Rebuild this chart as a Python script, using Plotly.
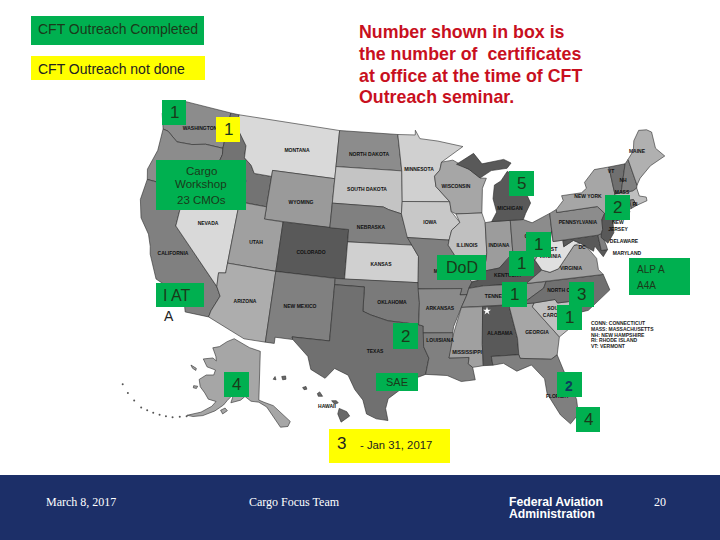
import math
import plotly.graph_objects as go

# state outlines as (lon, lat)
wa = [(-124.7,48.4),(-123.2,48.2),(-122.8,49),(-117,49),(-117,46),(-119,46),(-120.5,45.7),(-122.2,45.6),(-122.8,45.9),(-123.5,46.25),(-124.1,46.3),(-124.7,47.5)]
or_ = [(-124.1,46.3),(-123.5,46.25),(-122.8,45.9),(-122.2,45.6),(-120.5,45.7),(-119,46),(-117,46),(-116.9,45.5),(-117.2,44.4),(-117,43.8),(-117,42),(-124.2,42),(-124.5,42.8),(-124,44.5)]
ca = [(-124.2,42),(-120,42),(-120,39),(-114.6,35),(-114.1,34.3),(-114.7,33),(-114.8,32.5),(-117.1,32.5),(-117.3,33),(-118.4,33.8),(-119.2,34.1),(-120.6,34.5),(-121.8,36.3),(-122,36.9),(-122.5,37.8),(-123.7,38.9),(-124.3,40.3)]
nv = [(-120,42),(-114,42),(-114,36.2),(-114.7,36.1),(-114.6,35),(-120,39)]
id_ = [(-117,49),(-116,49),(-116,48),(-114.5,46.6),(-114.4,45.6),(-113.5,45.1),(-113,44.5),(-111.05,44.5),(-111.05,42),(-117,42),(-117,43.8),(-117.2,44.4),(-116.9,45.5),(-117,46)]
mt = [(-116,49),(-104.05,49),(-104.05,45),(-111.05,45),(-111.05,44.5),(-113,44.5),(-113.5,45.1),(-114.4,45.6),(-114.5,46.6),(-116,48)]
wy = [(-111.05,45),(-104.05,45),(-104.05,41),(-111.05,41)]
ut = [(-114,42),(-111.05,42),(-111.05,41),(-109.05,41),(-109.05,37),(-114,37)]
co = [(-109.05,41),(-102.05,41),(-102.05,37),(-109.05,37)]
az = [(-114,37),(-109.05,37),(-109.05,31.3),(-111.1,31.3),(-114.8,32.5),(-114.7,33),(-114.1,34.3),(-114.6,35),(-114.7,36.1),(-114,36.2)]
nm = [(-109.05,37),(-103,37),(-103,32),(-106.6,32),(-106.5,31.8),(-108.2,31.8),(-108.2,31.3),(-109.05,31.3)]
nd = [(-104.05,49),(-97.2,49),(-96.6,46),(-104.05,46)]
sd = [(-104.05,46),(-96.6,46),(-96.45,43.5),(-96.5,42.5),(-97.9,42.8),(-98.5,43),(-104.05,43)]
ne = [(-104.05,43),(-98.5,43),(-97.9,42.8),(-96.5,42.5),(-96.1,41.5),(-95.3,40),(-102.05,40),(-102.05,41),(-104.05,41)]
ks = [(-102.05,40),(-95.3,40),(-94.6,39.1),(-94.6,37),(-102.05,37)]
ok = [(-103,37),(-94.6,37),(-94.45,35.4),(-94.5,33.65),(-96,33.8),(-97.5,33.9),(-99.2,34.3),(-100,34.56),(-100,36.5),(-103,36.5)]
tx = [(-103,36.5),(-100,36.5),(-100,34.56),(-99.2,34.3),(-97.5,33.9),(-96,33.8),(-94.5,33.65),(-94.05,33.55),(-94.05,33),(-94,31.9),(-93.5,31),(-93.8,29.7),(-94.7,29.4),(-96,28.5),(-97.2,27.7),(-97.4,26.9),(-97.15,25.95),(-98.2,26.05),(-99.1,26.4),(-99.5,27.5),(-100.3,28.3),(-101,29.4),(-102.3,29.85),(-103.1,29),(-104.5,29.6),(-104.9,30.6),(-106.5,31.8),(-106.6,32),(-103,32)]
mn = [(-97.2,49),(-95.15,49),(-95.15,49.4),(-94.6,48.7),(-92.5,48.5),(-89.6,48),(-92.1,46.75),(-92.3,46.1),(-92.9,45.6),(-92.75,44.75),(-91.25,43.5),(-96.45,43.5),(-96.6,46)]
ia = [(-96.45,43.5),(-91.25,43.5),(-91.1,42.7),(-90.2,41.8),(-91.1,41.2),(-91.4,40.4),(-95.8,40.6),(-96.1,41.5),(-96.5,42.5)]
mo = [(-95.8,40.6),(-91.4,40.4),(-91.5,40),(-90.7,39),(-90.2,38.7),(-89.5,37.3),(-89.15,37),(-89.5,36.5),(-89.7,36),(-90.4,36),(-90.2,36.5),(-94.6,36.5),(-94.6,39.1),(-95.3,40)]
ar = [(-94.6,36.5),(-90.2,36.5),(-90.4,36),(-89.7,36),(-90.3,35),(-91.1,33.5),(-91.2,33),(-94.05,33),(-94.05,33.55),(-94.5,33.65),(-94.45,35.4)]
la = [(-94.05,33),(-91.2,33),(-91.1,32.3),(-91.6,31),(-89.7,31),(-89.8,30.5),(-89.4,30.2),(-89.2,29.2),(-90.5,29.1),(-91.8,29.6),(-93.8,29.7),(-93.5,31),(-94,31.9)]
wi = [(-92.1,46.75),(-90.8,46.9),(-89,46.1),(-87.8,45.35),(-87.1,45.3),(-87.6,44.5),(-87.8,42.5),(-90.6,42.5),(-91.1,42.7),(-91.25,43.5),(-92.75,44.75),(-92.9,45.6),(-92.3,46.1)]
il = [(-90.6,42.5),(-87.8,42.5),(-87.5,41.7),(-87.5,39.3),(-87.6,38.7),(-88.05,37.8),(-88.5,37.1),(-89.15,37),(-89.5,37.3),(-90.2,38.7),(-90.7,39),(-91.5,40),(-91.4,40.4),(-91.1,41.2),(-90.2,41.8)]
in_ = [(-87.5,41.7),(-86.8,41.76),(-84.8,41.76),(-84.8,39.1),(-85.4,38.7),(-86.3,38),(-88.05,37.8),(-87.6,38.7),(-87.5,39.3)]
oh = [(-84.8,41.76),(-83.4,41.73),(-82.5,41.4),(-81.2,41.8),(-80.52,42),(-80.52,40.6),(-80.85,39.7),(-81.75,39.2),(-82.6,38.4),(-83.7,38.65),(-84.8,39.1)]
mi_low = [(-86.8,41.76),(-84.8,41.76),(-83.4,41.73),(-83.1,42.2),(-82.45,43),(-82.9,44),(-83.4,44.1),(-83.3,45),(-84.7,45.75),(-85.5,45),(-86.25,44.7),(-86.5,43.6),(-86.2,42.5)]
mi_up = [(-90.4,46.55),(-88.4,47.4),(-87.5,46.5),(-85,46.75),(-84.2,46.4),(-84.7,46),(-86.5,45.9),(-87.8,45.35),(-89,46.1)]
ky = [(-89.5,36.5),(-89.15,37),(-88.5,37.1),(-88.05,37.8),(-86.3,38),(-85.4,38.7),(-84.8,39.1),(-83.7,38.65),(-82.6,38.4),(-82,37.55),(-83.7,36.6),(-88,36.65)]
tn = [(-89.7,36),(-89.5,36.5),(-88,36.65),(-83.7,36.6),(-81.7,36.6),(-82,36.1),(-84.3,35),(-90.3,35)]
ms = [(-90.3,35),(-88.2,35),(-88.4,32),(-88.4,30.3),(-89.4,30.2),(-89.8,30.5),(-89.7,31),(-91.6,31),(-91.1,33)]
al = [(-88.2,35),(-85.6,35),(-85,32.3),(-85,31),(-87.6,31),(-87.5,30.3),(-88.4,30.3),(-88.4,32)]
ga = [(-85.6,35),(-83.1,35),(-83.3,34.7),(-81,32.1),(-81.4,30.7),(-82,30.4),(-84.9,30.7),(-85,31),(-85,32.3)]
fl = [(-87.6,31),(-85,31),(-84.9,30.7),(-82,30.4),(-81.4,30.7),(-81,29.5),(-80.1,27),(-80.1,25.8),(-80.9,25.1),(-81.7,25.9),(-82.7,27.7),(-82.8,28.9),(-83.9,30.1),(-85.3,29.7),(-86.5,30.4),(-87.5,30.3)]
sc = [(-83.1,35),(-81,35.1),(-80.8,34.8),(-79.7,34.8),(-78.55,33.85),(-79.3,33),(-81,32.1),(-83.3,34.7)]
nc = [(-84.3,35),(-82,36.1),(-81.7,36.6),(-75.9,36.55),(-75.5,35.25),(-76.5,34.7),(-77.9,33.9),(-78.55,33.85),(-79.7,34.8),(-80.8,34.8),(-81,35.1),(-83.1,35)]
va = [(-83.7,36.6),(-82,37.55),(-81.2,37.3),(-80.3,37.5),(-79.3,38.4),(-78.4,39.2),(-77.8,39.15),(-77.1,38.9),(-76.3,37.9),(-76.3,37),(-75.9,36.55),(-81.7,36.6)]
wv = [(-82.6,38.4),(-81.75,39.2),(-80.85,39.7),(-80.52,40.6),(-80.52,39.72),(-79.48,39.72),(-79.48,39.2),(-78.4,39.6),(-77.75,39.3),(-78.4,39.2),(-79.3,38.4),(-80.3,37.5),(-81.2,37.3),(-82,37.55)]
md = [(-79.48,39.72),(-75.79,39.72),(-75.7,38.46),(-75.05,38.45),(-75.6,37.95),(-76.3,38.9),(-76.5,38.5),(-77.1,38.9),(-77.75,39.3),(-78.4,39.6),(-79.48,39.2)]
de = [(-75.79,39.72),(-75.4,39.8),(-75.1,38.8),(-75.05,38.45),(-75.7,38.46)]
pa = [(-80.52,42),(-79.76,42.25),(-79.76,42),(-75.35,42),(-74.7,41.36),(-75.1,40.9),(-75.2,40.1),(-75.4,39.8),(-75.79,39.72),(-80.52,39.72)]
nj = [(-74.7,41.36),(-73.9,41),(-74,40.5),(-74.1,39.7),(-74.9,38.95),(-75.5,39.5),(-75.4,39.8),(-75.2,40.1),(-75.1,40.9)]
ny = [(-79.76,42.25),(-78.9,42.9),(-79,43.3),(-76.8,43.3),(-76.2,43.6),(-76.3,44.1),(-75,45),(-73.35,45),(-73.3,43.6),(-73.25,42.75),(-73.5,42.05),(-73.5,41.3),(-73.65,41),(-72,41.1),(-74,40.6),(-73.9,41),(-74.7,41.36),(-75.35,42),(-79.76,42)]
vt = [(-73.35,45),(-71.5,45),(-72.45,43),(-72.45,42.73),(-73.25,42.75),(-73.3,43.6)]
nh = [(-71.5,45),(-71.08,45.3),(-70.7,43.1),(-70.8,42.87),(-71.3,42.7),(-72.45,42.73),(-72.45,43)]
me = [(-71.08,45.3),(-70.3,45.9),(-70,46.7),(-69.2,47.45),(-68.3,47.35),(-67.8,47.07),(-67.8,45.7),(-67,44.9),(-68.8,44.4),(-70.2,43.6),(-70.7,43.1)]
ma = [(-73.5,42.05),(-73.25,42.75),(-72.45,42.73),(-71.3,42.7),(-70.8,42.87),(-70.7,42.2),(-70,42),(-70,41.7),(-71.2,41.5),(-71.4,42.02),(-71.8,42.02)]
ct = [(-73.5,42.05),(-71.8,42.02),(-71.8,41.35),(-73.65,41),(-73.5,41.3)]
ri = [(-71.8,42.02),(-71.4,42.02),(-71.2,41.5),(-71.8,41.35)]

lower48 = [wa, or_, ca, nv, id_, mt, wy, ut, co, az, nm, nd, sd, ne, ks, ok, tx, mn, ia, mo, ar, la, wi, il, in_, oh,
           mi_low, mi_up, ky, tn, ms, al, ga, fl, sc, nc, va, wv, md, de, pa, nj, ny, vt, nh, me, ma, ct, ri]
lower48_grey = [140, 140, 128, 217, 115, 217, 154, 160, 89, 173, 128, 140, 196, 128, 208, 122, 112, 208, 200, 127, 138, 128, 166, 192, 156, 140,
                89, 89, 89, 140, 160, 89, 166, 127, 192, 112, 160, 224, 89, 128, 140, 89, 166, 112, 128, 176, 191, 154, 128]

alaska = [(-141,69.65),(-141,60.3),(-139,59.9),(-135.5,59.2),(-130,55.9),(-131,55),(-133.5,55),(-136,57.5),(-138,59),(-141,59.9),(-144,60),(-146.5,60.8),(-148,60),(-151.5,59.2),(-151,61),(-153,59.5),(-154,58.5),(-156.5,57),(-160,55.5),(-163,54.7),(-165,54.5),(-161,56),(-158,57.7),(-157,58.8),(-160,58.8),(-162,59.7),(-164.5,60.5),(-166,61.7),(-164,63),(-161,63.5),(-161,64.5),(-165,64.5),(-168,65.6),(-164,66.5),(-162,66.2),(-163,67),(-166,68.3),(-163,69),(-160,70.4),(-156.6,71.35),(-152,70.8),(-147,70.2)]
kodiak = [(-154.6,57.4),(-153.2,58),(-152.2,57.6),(-153.6,56.8)]
nunivak = [(-167,60.2),(-165.5,60.4),(-165.6,59.9),(-166.8,59.8)]
st_lawrence = [(-171.7,63.5),(-169,63.4),(-168.8,63),(-170.5,63.1)]
aleutians_lon = [-165,-167,-169,-171,-173,-175,-177,-179,-182,-185,-188]
aleutians_lat = [54.3,53.7,53,52.6,52.3,52,51.8,51.6,51.9,52.3,52.9]

hi_big = [(-155.9,20.2),(-155.1,19.9),(-154.8,19.5),(-155.7,18.95),(-156.05,19.7)]
hi_maui = [(-156.7,20.9),(-156.2,20.9),(-156,20.7),(-156.4,20.6)]
hi_oahu = [(-158.2,21.55),(-157.95,21.7),(-157.65,21.3),(-158.1,21.3)]
hi_kauai = [(-159.75,22.1),(-159.4,22.2),(-159.3,21.95),(-159.6,21.9)]
hi_nihoa = [(-161.95,23.1),(-161.55,23.15),(-161.5,22.85),(-161.85,22.8)]
hi_necker = [(-162.85,22.85),(-162.65,23.1),(-162.55,22.8)]

state_labels = ["WASHINGTON","MONTANA","NORTH DAKOTA","SOUTH DAKOTA","WYOMING","NEBRASKA","NEVADA","UTAH","COLORADO","KANSAS","CALIFORNIA",
                "IDAHO","ARIZONA","NEW MEXICO","OKLAHOMA","TEXAS","MINNESOTA","WISCONSIN","MICHIGAN","IOWA","NEW YORK","PENNSYLVANIA",
                "ILLINOIS","INDIANA","OHIO","MISSOURI","KENTUCKY","WEST<br>VIRGINIA","VIRGINIA","TENNESSEE","NORTH CAROLINA","ARKANSAS",
                "VT","NH","MAINE","MASS","RI","LOUISIANA","MISSISSIPPI","ALABAMA","GEORGIA","SOUTH<br>CAROLINA","FLORIDA","HAWAII",
                "NEW<br>JERSEY","DELAWARE","MARYLAND","DC"]
label_x = [200,297,369,367,301,371,208,256,311,381,173,238,245,300,392,375,419,456,510,430,588,578,467,499,531,446,508,550,571,500,570,440,
           611,623,637,622,635,440,467,500,537,556,557,327,618,624,627,582]
label_y = [129,151,155,190,203,228,224,243,253,265,254,182,302,307,303,352,170,187,209,223,197,223,246,246,237,272,276,253,269,297,291,309,
           172,181,152,193,205,341,353,334,333,312,397,407,226,242,254,248]

note_lines = ["CONN: CONNECTICUT", "MASS: MASSACHUSETTS", "NH: NEW HAMPSHIRE", "RI: RHODE ISLAND", "VT: VERMONT"]
note_y = [324, 330, 336, 341, 347]

heading_lines = ["Number shown in box is", "the number of  certificates", "at office at the time of CFT", "Outreach seminar."]
heading_y = [32, 54, 76, 97]

GREEN = "#00B050"
YELLOW = "#FFFF00"
NAVY = "#1C2F68"
INK = "#1a3a1a"

# x0, y0, x1, y1, colour, label, font size
boxes = [
    (31, 16, 204, 45, GREEN, "", 12),
    (31, 56, 205, 80, YELLOW, "", 12),
    (162, 100, 186, 125, GREEN, "1", 17),
    (216, 117, 240, 142, YELLOW, "1", 17),
    (156, 160, 246, 210, GREEN, "", 11),
    (156, 283, 204, 307, GREEN, "", 15),
    (437, 255, 486, 280, GREEN, "DoD", 16),
    (509, 171, 534, 196, GREEN, "5", 17),
    (605, 195, 630, 220, GREEN, "2", 17),
    (526, 232, 551, 257, GREEN, "1", 17),
    (509, 251, 534, 276, GREEN, "1", 17),
    (502, 282, 527, 307, GREEN, "1", 17),
    (569, 282, 594, 307, GREEN, "3", 17),
    (557, 305, 582, 330, GREEN, "1", 17),
    (629, 258, 690, 295, GREEN, "", 9),
    (393, 323, 418, 349, GREEN, "2", 17),
    (376, 373, 418, 391, GREEN, "SAE", 11),
    (224, 372, 249, 397, GREEN, "4", 17),
    (557, 372, 582, 397, GREEN, "", 15),
    (576, 407, 600, 432, GREEN, "4", 17),
    (329, 429, 450, 463, YELLOW, "", 11),
]


def albers(lons, lats, lon0=-93.3, lat0=37.5, lat1=25.0, lat2=40.0):
    p1, p2 = math.radians(lat1), math.radians(lat2)
    n = (math.sin(p1) + math.sin(p2)) / 2
    c = math.cos(p1) ** 2 + 2 * n * math.sin(p1)
    rho0 = 6371 * math.sqrt(c - 2 * n * math.sin(math.radians(lat0))) / n
    xs, ys = [], []
    for lon, lat in zip(lons, lats):
        rho = 6371 * math.sqrt(c - 2 * n * math.sin(math.radians(lat))) / n
        theta = n * math.radians(lon - lon0)
        xs.append(rho * math.sin(theta))
        ys.append(rho0 - rho * math.cos(theta))
    return xs, ys


def main_xy(outline):
    xs, ys = albers([p[0] for p in outline], [p[1] for p in outline])
    return [431 + 0.112 * x for x in xs], [276.5 - 0.112 * y for y in ys]


def alaska_xy(lons, lats):
    xs, ys = albers(lons, lats, lon0=-139, lat0=63, lat1=55, lat2=65)
    return [264 + 0.047 * x for x in xs], [386 - 0.047 * y for y in ys]


def hawaii_xy(outline):
    return [343 + 9.5 * (p[0] + 155.5) for p in outline], [415 - 11 * (p[1] - 19.6) for p in outline]


def add_region(fig, x, y, grey):
    fig.add_trace(go.Scatter(x=x + x[:1], y=y + y[:1], mode="lines", fill="toself",
                             fillcolor=f"rgb({grey},{grey},{grey})",
                             line=dict(color="#2b2b2b", width=0.6),
                             hoverinfo="skip", showlegend=False))


def add_text(fig, text, x, y, size, color=INK, anchor="center", bold=False, family="Liberation Sans"):
    if bold:
        text = f"<b>{text}</b>"
    fig.add_annotation(x=x, y=y, xref="x", yref="y", text=text, showarrow=False, xanchor=anchor, yanchor="middle",
                       font=dict(family=family, size=size, color=color), borderpad=0, borderwidth=0)


fig = go.Figure()

for outline, grey in zip(lower48, lower48_grey):
    x, y = main_xy(outline)
    add_region(fig, x, y, grey)

for outline in [alaska, kodiak, nunivak, st_lawrence]:
    x, y = alaska_xy([p[0] for p in outline], [p[1] for p in outline])
    add_region(fig, x, y, 166)
x, y = alaska_xy(aleutians_lon, aleutians_lat)
fig.add_trace(go.Scatter(x=x, y=y, mode="markers", marker=dict(color="#555555", size=2),
                         hoverinfo="skip", showlegend=False))

for outline in [hi_big, hi_maui, hi_oahu, hi_kauai, hi_nihoa, hi_necker]:
    x, y = hawaii_xy(outline)
    add_region(fig, x, y, 105)

# state names sit under the boxes, so they are a trace and not annotations
fig.add_trace(go.Scatter(x=label_x, y=label_y, mode="text", text=[f"<b>{s}</b>" for s in state_labels],
                         textfont=dict(family="Liberation Sans", size=5, color="#111111"),
                         hoverinfo="skip", showlegend=False))
fig.add_trace(go.Scatter(x=[591] * len(note_lines), y=note_y, mode="text", text=[f"<b>{s}</b>" for s in note_lines],
                         textposition="middle right",
                         textfont=dict(family="Liberation Sans", size=5, color="#222222"),
                         hoverinfo="skip", showlegend=False))
fig.add_trace(go.Scatter(x=[487], y=[311], mode="markers", marker=dict(symbol="star", color="white", size=6),
                         hoverinfo="skip", showlegend=False))

# footer band and the coloured boxes
fig.add_shape(type="rect", x0=0, y0=475, x1=720, y1=540, fillcolor=NAVY, line_width=0, layer="above")
for x0, y0, x1, y1, colour, label, size in boxes:
    fig.add_shape(type="rect", x0=x0, y0=y0, x1=x1, y1=y1, fillcolor=colour, line_width=0, layer="above")
    if label:
        add_text(fig, label, (x0 + x1) / 2, (y0 + y1) / 2, size)

add_text(fig, "CFT Outreach Completed", 38, 29, 14, anchor="left")
add_text(fig, "CFT Outreach not done", 38, 69, 14, color="#222222", anchor="left")
add_text(fig, "Cargo", 201, 171, 11.5)
add_text(fig, "Workshop", 201, 184, 11.5)
add_text(fig, "23 CMOs", 201, 200, 11.5)
add_text(fig, "I AT", 163, 295, 16, anchor="left")
add_text(fig, "A", 169, 316, 14, color="#222222")
add_text(fig, "ALP A", 637, 269, 10, anchor="left")
add_text(fig, "A4A", 637, 285, 10, anchor="left")
add_text(fig, "2", 569, 386, 14, color="#0b3d5c", bold=True)
add_text(fig, "3", 341, 443, 17, color="#222222")
add_text(fig, "- Jan 31, 2017", 360, 445, 11.3, color="#222222", anchor="left")

for line, y in zip(heading_lines, heading_y):
    add_text(fig, line, 359, y, 17.8, color="#C8101E", anchor="left", bold=True)

add_text(fig, "March 8, 2017", 46, 502, 12, color="white", anchor="left", family="Liberation Serif")
add_text(fig, "Cargo Focus Team", 249, 502, 12, color="white", anchor="left", family="Liberation Serif")
add_text(fig, "Federal Aviation", 509, 502, 12.2, color="white", anchor="left", bold=True)
add_text(fig, "Administration", 509, 514, 12.2, color="white", anchor="left", bold=True)
add_text(fig, "20", 654, 502, 12, color="white", anchor="left", family="Liberation Serif")

fig.update_xaxes(range=[0, 720], visible=False, fixedrange=True)
fig.update_yaxes(range=[540, 0], visible=False, fixedrange=True)
fig.update_layout(width=720, height=540, margin=dict(l=0, r=0, t=0, b=0), autosize=False,
                  plot_bgcolor="white", paper_bgcolor="white", showlegend=False)

# the page body has a default margin that would push the slide off the window
fig.write_html("out.html", config={"displayModeBar": False}, post_script="document.body.style.margin='0';")
